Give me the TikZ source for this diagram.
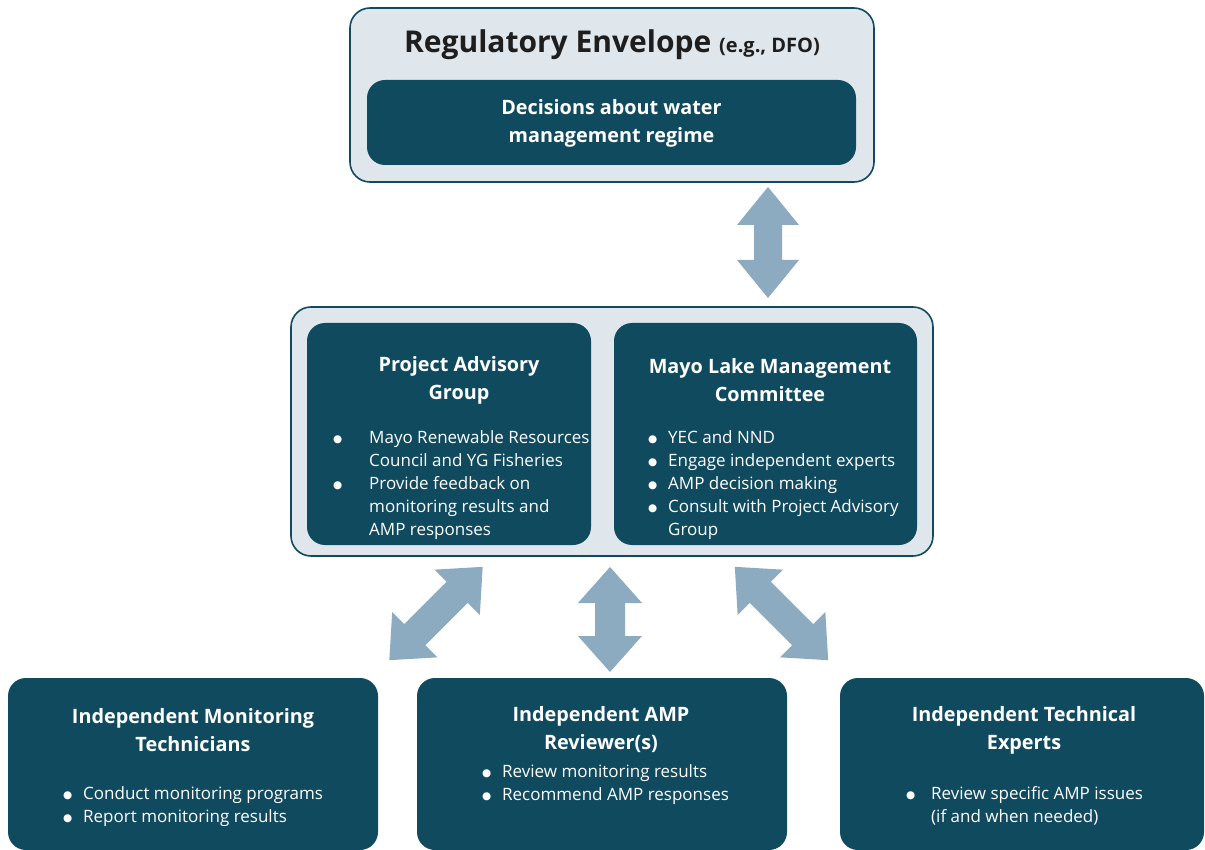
\documentclass[tikz,border=0pt]{standalone}
\usepackage{fontspec}
\setmainfont{Open Sans}
\newfontfamily\symf{DejaVu Sans}
\definecolor{dark}{RGB}{16,74,95}
\definecolor{light}{RGB}{223,231,237}
\definecolor{arrowc}{RGB}{140,171,192}
\definecolor{ink}{RGB}{30,30,30}
\newcommand\bodyf{\fontsize{17}{23}\selectfont}
\newcommand\titlef{\fontsize{19.8}{28}\selectfont\bfseries}
\newcommand\bigtitlef{\fontsize{30}{34}\selectfont\bfseries}
\newcommand\bi{\raisebox{0.8pt}{\symf\fontsize{10.5}{12}\selectfont ●}}
\newcommand\blist[2]{\begin{tabular}[t]{@{}p{#1}@{}l@{}}#2\end{tabular}}
\newcommand\dblarr[7]{%
  \fill[arrowc, shift={(#1,#2)}, rotate=#3]
    (-#4,0) -- (-#4+#5,#6) -- (-#4+#5,#7) -- (#4-#5,#7) -- (#4-#5,#6) -- (#4,0)
    -- (#4-#5,-#6) -- (#4-#5,-#7) -- (-#4+#5,-#7) -- (-#4+#5,-#6) -- cycle;}
\tikzset{
  outerbox/.style={draw=dark, line width=1.6pt, fill=light, rounded corners=20pt, inner sep=0pt},
  darkbox/.style={fill=dark, rounded corners=18pt, inner sep=0pt},
  wtitle/.style={text=white, font=\titlef, align=center, inner sep=0pt},
  wlist/.style={text=white, font=\bodyf, anchor=base west, inner sep=0pt},
}
\begin{document}
\begin{tikzpicture}[x=1pt,y=-1pt]
\useasboundingbox (0,0) rectangle (1205,850);
\fill[white] (0,0) rectangle (1205,850);

% top
\node[outerbox, minimum width=524pt, minimum height=174pt] (reg) at (612,95) {};
\node[darkbox, minimum width=489pt, minimum height=85pt] (dec) at (611.5,122.5) {};
\node[text=ink, font=\bigtitlef, inner sep=0pt] (regt) at (612,45) {Regulatory Envelope {\fontsize{20}{22}\selectfont(e.g., DFO)}};
\node[wtitle] (dect) at (611.5,123) {Decisions about water\\management regime};

% middle
\node[outerbox, minimum width=642pt, minimum height=249pt] (mid) at (612,431.5) {};
\node[darkbox, minimum width=284pt, minimum height=222pt] (pag) at (449,434) {};
\node[darkbox, minimum width=303pt, minimum height=222pt] (mlmc) at (765.5,434) {};
\node[wtitle] (pagt) at (459,380) {Project Advisory\\Group};
\node[wtitle] (mlmct) at (770,380) {Mayo Lake Management\\Committee};
\node[wlist] (pagl) at (333,443) {\blist{36pt}{\bi & Mayo Renewable Resources\\ & Council and YG Fisheries\\ \bi & Provide feedback on\\ & monitoring results and\\ & AMP responses}};
\node[wlist] (mlmcl) at (648,443) {\blist{20pt}{\bi & YEC and NND\\ \bi & Engage independent experts\\ \bi & AMP decision making\\ \bi & Consult with Project Advisory\\ & Group}};

% bottom
\node[darkbox, minimum width=370pt, minimum height=172pt] (imt) at (193,764) {};
\node[darkbox, minimum width=370pt, minimum height=172pt] (iar) at (602,764) {};
\node[darkbox, minimum width=364pt, minimum height=172pt] (ite) at (1022,764) {};
\node[wtitle] (imtt) at (193,730) {Independent Monitoring\\Technicians};
\node[wtitle] (iart) at (601,730) {Independent AMP\\Reviewer(s)};
\node[wtitle] (itet) at (1024,730) {Independent Technical\\Experts};
\node[wlist] (imtl) at (63,799) {\blist{20pt}{\bi & Conduct monitoring programs\\ \bi & Report monitoring results}};
\node[wlist] (iarl) at (482,777) {\blist{20pt}{\bi & Review monitoring results\\ \bi & Recommend AMP responses}};
\node[wlist] (itel) at (906,799) {\blist{25pt}{\bi & Review specific AMP issues\\ & (if and when needed)}};

% arrows
\dblarr{768}{242.5}{90}{55.5}{38}{31}{14}
\dblarr{610}{619.5}{90}{52.5}{36}{32}{15}
\dblarr{436}{613.5}{45}{66}{36}{32}{15}
\dblarr{781.5}{613.5}{-45}{66}{36}{32}{15}
\end{tikzpicture}
\end{document}
